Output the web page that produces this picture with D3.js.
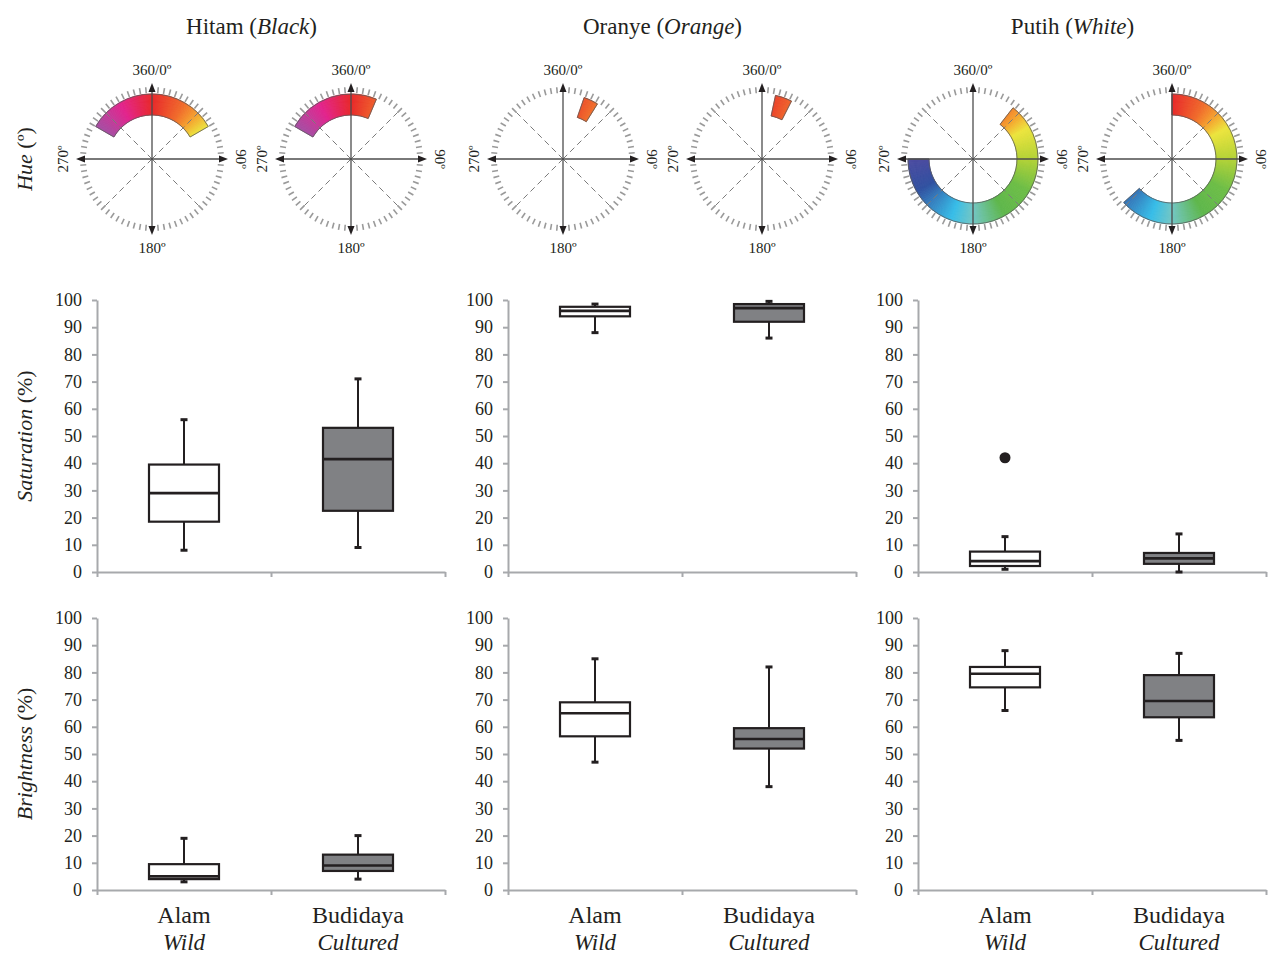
<!DOCTYPE html>
<html>
<head>
<meta charset="utf-8">
<script src="https://cdn.jsdelivr.net/npm/d3@7"></script>
<style>
    body { margin: 0; background: #fff; }
    text { font-family: "Liberation Serif", serif; fill: #231f20; }
</style>
</head>
<body>
<svg id="chart" width="1271" height="956"></svg>
<script>
// ---- data ----
const colourNames = ['Hitam', 'Oranye', 'Putih'];
const colourNamesEn = ['Black', 'Orange', 'White'];
const groups = ['Alam', 'Budidaya'];
const groupsEn = ['Wild', 'Cultured'];
const yTicks = [0, 10, 20, 30, 40, 50, 60, 70, 80, 90, 100];

// hue range per colour, degrees clockwise from 0 (start, end)
const hueWild = [[300, 420], [19, 32], [38, 270]];
const hueCultured = [[300, 383], [12, 27], [0, 228]];

// box stats: [min, q1, median, q3, max]
const satWild = [[8, 18.5, 29, 39.5, 56], [88, 94, 96, 97.5, 98.5], [1, 2.2, 4, 7.5, 13]];
const satCultured = [[9, 22.5, 41.5, 53, 71], [86, 92, 97, 98.5, 99.5], [0, 3, 5, 7, 14]];
const satOutWild = [[], [], [42]];
const satOutCultured = [[], [], []];

const briWild = [[3, 4, 5, 9.5, 19], [47, 56.5, 65, 69, 85], [66, 74.5, 79.5, 82, 88]];
const briCultured = [[4, 7, 9, 13, 20], [38, 52, 55.5, 59.5, 82], [55, 63.5, 69.5, 79, 87]];
const briOutWild = [[], [], []];
const briOutCultured = [[], [], []];

// ---- layout ----
const colX = [97, 508, 918];
const plotW = 348;
const rows = [
    { label: 'Saturation', top: 300, bottom: 572, wild: satWild, cult: satCultured, outW: satOutWild, outC: satOutCultured },
    { label: 'Brightness', top: 618, bottom: 890, wild: briWild, cult: briCultured, outW: briOutWild, outC: briOutCultured }
];
const hueCy = 159;
const axisGrey = '#a7a9ac';
const ink = '#231f20';
const boxFill = ['#ffffff', '#808184'];

const svg = d3.select('#chart');

const hueColor = d3.scaleLinear()
    .domain([0, 30, 45, 60, 90, 120, 150, 180, 200, 240, 270, 300, 330, 360])
    .range(['#e8282a', '#f06a2a', '#f5a02c', '#ece43c', '#b3d236', '#6cbd45', '#5db64a',
        '#72c6c4', '#36bde8', '#2f4f9f', '#4b4aa0', '#a54ca2', '#e2228c', '#e8282a'])
    .interpolate(d3.interpolateRgb);

const rad = (a) => a * Math.PI / 180;

function drawWheel(g, cx, range) {
    const w = g.append('g').attr('transform', `translate(${cx},${hueCy})`);

    // tick ring
    w.selectAll('.ring')
        .data(d3.range(0, 360, 5).filter((a) => a % 90 !== 0))
        .enter().append('line')
        .attr('x1', (a) => 66 * Math.sin(rad(a)))
        .attr('y1', (a) => -66 * Math.cos(rad(a)))
        .attr('x2', (a) => 72 * Math.sin(rad(a)))
        .attr('y2', (a) => -72 * Math.cos(rad(a)))
        .attr('stroke', '#9a9a9a')
        .attr('stroke-width', 1.6);

    // hue band
    const arc = d3.arc().innerRadius(44).outerRadius(65);
    const segs = d3.range(range[0], range[1], 1);
    w.selectAll('.seg')
        .data(segs)
        .enter().append('path')
        .attr('d', (a) => arc({ startAngle: rad(a), endAngle: rad(Math.min(a + 1, range[1])) }))
        .attr('fill', (a) => hueColor(a % 360))
        .attr('stroke', (a) => hueColor(a % 360))
        .attr('stroke-width', 0.8);
    w.append('path')
        .attr('d', arc({ startAngle: rad(range[0]), endAngle: rad(range[1]) }))
        .attr('fill', 'none')
        .attr('stroke', '#5a5a5a')
        .attr('stroke-width', 0.8);

    // dashed diagonals
    w.selectAll('.diag')
        .data([45, 135, 225, 315])
        .enter().append('line')
        .attr('x1', 0).attr('y1', 0)
        .attr('x2', (a) => 66 * Math.sin(rad(a)))
        .attr('y2', (a) => -66 * Math.cos(rad(a)))
        .attr('stroke', '#7a7a7a')
        .attr('stroke-width', 1)
        .attr('stroke-dasharray', '6,4');

    // arrows
    w.selectAll('.arrow')
        .data([0, 90, 180, 270])
        .enter().append('line')
        .attr('x1', 0).attr('y1', 0)
        .attr('x2', (a) => 68 * Math.sin(rad(a)))
        .attr('y2', (a) => -68 * Math.cos(rad(a)))
        .attr('stroke', '#4d4d4d')
        .attr('stroke-width', 1.3);
    w.selectAll('.head')
        .data([0, 90, 180, 270])
        .enter().append('path')
        .attr('d', 'M0,-76L-3.5,-67L3.5,-67Z')
        .attr('transform', (a) => `rotate(${a})`)
        .attr('fill', '#231f20');

    // labels
    w.append('text').attr('y', -84).attr('text-anchor', 'middle')
        .style('font-size', '15px').text('360/0º');
    w.append('text').attr('y', 94).attr('text-anchor', 'middle')
        .style('font-size', '15px').text('180º');
    w.append('text').attr('transform', 'translate(-84,0) rotate(-90)').attr('text-anchor', 'middle')
        .style('font-size', '15px').text('270º');
    w.append('text').attr('transform', 'translate(84,0) rotate(90)').attr('text-anchor', 'middle')
        .style('font-size', '15px').text('90º');
}

function drawBox(g, y, cx, stats, outliers, fill) {
    const [mn, q1, md, q3, mx] = stats;
    const bw = 70;
    // whisker
    g.append('line').attr('x1', cx).attr('x2', cx).attr('y1', y(mx)).attr('y2', y(mn))
        .attr('stroke', ink).attr('stroke-width', 2);
    [mn, mx].forEach((v) => {
        g.append('line').attr('x1', cx - 3.5).attr('x2', cx + 3.5).attr('y1', y(v)).attr('y2', y(v))
            .attr('stroke', ink).attr('stroke-width', 3);
    });
    g.append('rect')
        .attr('x', cx - bw / 2).attr('width', bw)
        .attr('y', y(q3)).attr('height', y(q1) - y(q3))
        .attr('fill', fill).attr('stroke', ink).attr('stroke-width', 2.2);
    g.append('line').attr('x1', cx - bw / 2).attr('x2', cx + bw / 2).attr('y1', y(md)).attr('y2', y(md))
        .attr('stroke', ink).attr('stroke-width', 2.6);
    g.selectAll('.out').data(outliers).enter().append('circle')
        .attr('cx', cx).attr('cy', (d) => y(d)).attr('r', 5.5).attr('fill', ink);
}

colourNames.forEach((name, ci) => {
    const x0 = colX[ci];
    const col = svg.append('g');

    // title
    const t = col.append('text')
        .attr('x', x0 + 154.5).attr('y', 34)
        .attr('text-anchor', 'middle')
        .style('font-size', '23px');
    t.append('tspan').text(name + ' (');
    t.append('tspan').style('font-style', 'italic').text(colourNamesEn[ci]);
    t.append('tspan').text(')');

    drawWheel(col, x0 + 55, hueWild[ci]);
    drawWheel(col, x0 + 254, hueCultured[ci]);

    const x = d3.scaleBand().domain(groups).range([x0, x0 + plotW]);
    const xEdge = d3.scaleLinear().domain([0, 2]).range([x0, x0 + plotW]);

    rows.forEach((row, ri) => {
        const y = d3.scaleLinear().domain([0, 100]).range([row.bottom, row.top]);
        const g = col.append('g');

        const yAxis = g.append('g')
            .attr('transform', `translate(${x0},0)`)
            .call(d3.axisLeft(y).tickValues(yTicks).tickSize(5).tickSizeOuter(0).tickPadding(10));
        const xAxis = g.append('g')
            .attr('transform', `translate(0,${row.bottom})`)
            .call(d3.axisBottom(xEdge).tickValues([0, 1, 2]).tickFormat('').tickSize(5).tickSizeOuter(0));
        [yAxis, xAxis].forEach((a) => {
            a.select('.domain').attr('stroke', axisGrey).attr('stroke-width', 2);
            a.selectAll('.tick line').attr('stroke', axisGrey).attr('stroke-width', 2);
        });
        yAxis.selectAll('.tick text')
            .style('font-family', '"Liberation Serif", serif')
            .style('font-size', '18px')
            .attr('fill', ink);

        const cx = (k) => x(groups[k]) + x.bandwidth() / 2;
        drawBox(g, y, cx(0), row.wild[ci], row.outW[ci], boxFill[0]);
        drawBox(g, y, cx(1), row.cult[ci], row.outC[ci], boxFill[1]);

        if (ri === rows.length - 1) {
            groups.forEach((gname, k) => {
                g.append('text').attr('x', cx(k)).attr('y', 923)
                    .attr('text-anchor', 'middle').style('font-size', '24px').text(gname);
                g.append('text').attr('x', cx(k)).attr('y', 950)
                    .attr('text-anchor', 'middle').style('font-size', '23px')
                    .style('font-style', 'italic').text(groupsEn[k]);
            });
        }
    });
});

// row labels
function rowLabel(cy, word, unit) {
    const t = svg.append('text')
        .attr('transform', `translate(32,${cy}) rotate(-90)`)
        .attr('text-anchor', 'middle')
        .style('font-size', '22px');
    t.append('tspan').style('font-style', 'italic').text(word);
    t.append('tspan').text(' ' + unit);
}
rowLabel(hueCy, 'Hue', '(º)');
rowLabel((rows[0].top + rows[0].bottom) / 2, rows[0].label, '(%)');
rowLabel((rows[1].top + rows[1].bottom) / 2, rows[1].label, '(%)');
</script>
</body>
</html>
